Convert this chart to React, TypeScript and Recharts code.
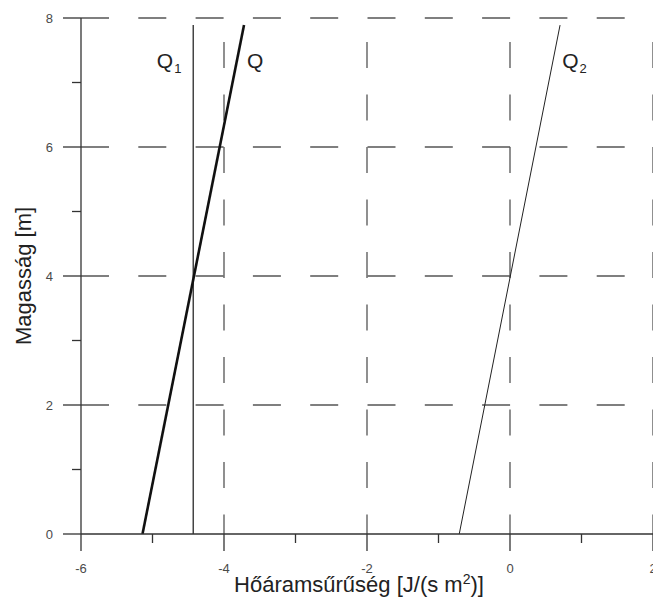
import React from 'react';
import {
  LineChart,
  Line,
  XAxis,
  YAxis,
  ReferenceLine,
  ReferenceDot,
} from 'recharts';

// heights (m) at the two ends of every profile line
const heightEnds = [0, 7.89];
// heat flux density values (J/(s m2)) at those heights
const qFlux = [-5.14, -3.72];
const q1Flux = [-4.43, -4.43];
const q2Flux = [-0.71, 0.7];

const xTicks = [-6, -5, -4, -3, -2, -1, 0, 1, 2];
const yTicks = [0, 1, 2, 3, 4, 5, 6, 7, 8];
const gridX = [-4, -2, 0, 2];
const gridY = [2, 4, 6, 8];

const toPoints = (flux: number[]) =>
  heightEnds.map((h, i) => ({ x: flux[i], y: h }));

const qData = toPoints(qFlux);
const q1Data = toPoints(q1Flux);
const q2Data = toPoints(q2Flux);

const FONT = '"Liberation Sans", Arial, sans-serif';
const AXIS = '#333';
const GRID = '#555';

const XTick = (props: any) => {
  const { x, y, payload } = props;
  const major = payload.value % 2 === 0;
  return (
    <g>
      <line x1={x} y1={y} x2={x} y2={y + (major ? 17 : 9)} stroke={AXIS} strokeWidth={1.3} />
      {major && (
        <text x={x} y={y + 39} textAnchor="middle" fontSize={13} fill="#4a4a4a" fontFamily={FONT}>
          {payload.value}
        </text>
      )}
    </g>
  );
};

const YTick = (props: any) => {
  const { x, y, payload } = props;
  const major = payload.value % 2 === 0;
  return (
    <g>
      <line x1={x - (major ? 18 : 9)} y1={y} x2={x} y2={y} stroke={AXIS} strokeWidth={1.3} />
      {major && (
        <text x={x - 28} y={y + 4.5} textAnchor="end" fontSize={13} fill="#4a4a4a" fontFamily={FONT}>
          {payload.value}
        </text>
      )}
    </g>
  );
};

const seriesLabel = (main: string, sub?: string) => (props: any) => (
  <text x={props.cx} y={props.cy} fontSize={21} fill="#222" fontFamily={FONT}>
    {main}
    {sub && (
      <tspan fontSize={13} dx={1} dy={5}>
        {sub}
      </tspan>
    )}
  </text>
);

const App: React.FC = () => {
  return (
    <div
      style={{
        position: 'absolute',
        left: 0,
        top: 0,
        width: 653,
        height: 606,
        overflow: 'hidden',
        background: '#fff',
      }}
    >
      <LineChart
        width={700}
        height={606}
        margin={{ top: 18, right: 47, bottom: 0, left: 0 }}
      >
        <XAxis
          dataKey="x"
          type="number"
          domain={[-6, 2]}
          ticks={xTicks}
          interval={0}
          allowDataOverflow
          height={72}
          tickSize={0}
          tickMargin={0}
          tickLine={false}
          tick={<XTick />}
          stroke={AXIS}
          strokeWidth={1.3}
          label={(p: any) => (
            <text
              x={359}
              y={p.viewBox.y + 58}
              textAnchor="middle"
              fontSize={22}
              fill="#222"
              fontFamily={FONT}
            >
              Hőáramsűrűség [J/(s m<tspan fontSize={14} dy={-8}>2</tspan>
              <tspan dy={8}>)]</tspan>
            </text>
          )}
        />
        <YAxis
          dataKey="y"
          type="number"
          domain={[0, 8]}
          ticks={yTicks}
          interval={0}
          allowDataOverflow
          width={81}
          tickSize={0}
          tickMargin={0}
          tickLine={false}
          tick={<YTick />}
          stroke={AXIS}
          strokeWidth={1.3}
          label={(p: any) => {
            const cx = 31;
            const cy = p.viewBox.y + p.viewBox.height / 2;
            return (
              <text
                x={cx}
                y={cy}
                transform={`rotate(-90, ${cx}, ${cy})`}
                textAnchor="middle"
                fontSize={22}
                fill="#222"
                fontFamily={FONT}
              >
                Magasság [m]
              </text>
            );
          }}
        />

        {gridY.map((v) => (
          <ReferenceLine
            key={`gy${v}`}
            segment={[{ x: -6, y: v }, { x: 2, y: v }]}
            stroke={GRID}
            strokeWidth={1.3}
            strokeDasharray="28 29.3"
          />
        ))}
        {gridX.map((v) => (
          <ReferenceLine
            key={`gx${v}`}
            segment={[{ x: v, y: 8 }, { x: v, y: 0 }]}
            stroke={GRID}
            strokeWidth={1.3}
            strokeDasharray="26 26.5"
            strokeDashoffset={28.5}
          />
        ))}

        <Line
          data={q1Data}
          dataKey="y"
          stroke="#444"
          strokeWidth={1.5}
          dot={false}
          activeDot={false}
          isAnimationActive={false}
        />
        <Line
          data={qData}
          dataKey="y"
          stroke="#111"
          strokeWidth={2.6}
          dot={false}
          activeDot={false}
          isAnimationActive={false}
        />
        <Line
          data={q2Data}
          dataKey="y"
          stroke="#222"
          strokeWidth={1}
          dot={false}
          activeDot={false}
          isAnimationActive={false}
        />

        <ReferenceDot x={-4.94} y={7.23} r={0} shape={seriesLabel('Q', '1')} />
        <ReferenceDot x={-3.68} y={7.23} r={0} shape={seriesLabel('Q')} />
        <ReferenceDot x={0.73} y={7.23} r={0} shape={seriesLabel('Q', '2')} />
      </LineChart>
    </div>
  );
};

export default App;
